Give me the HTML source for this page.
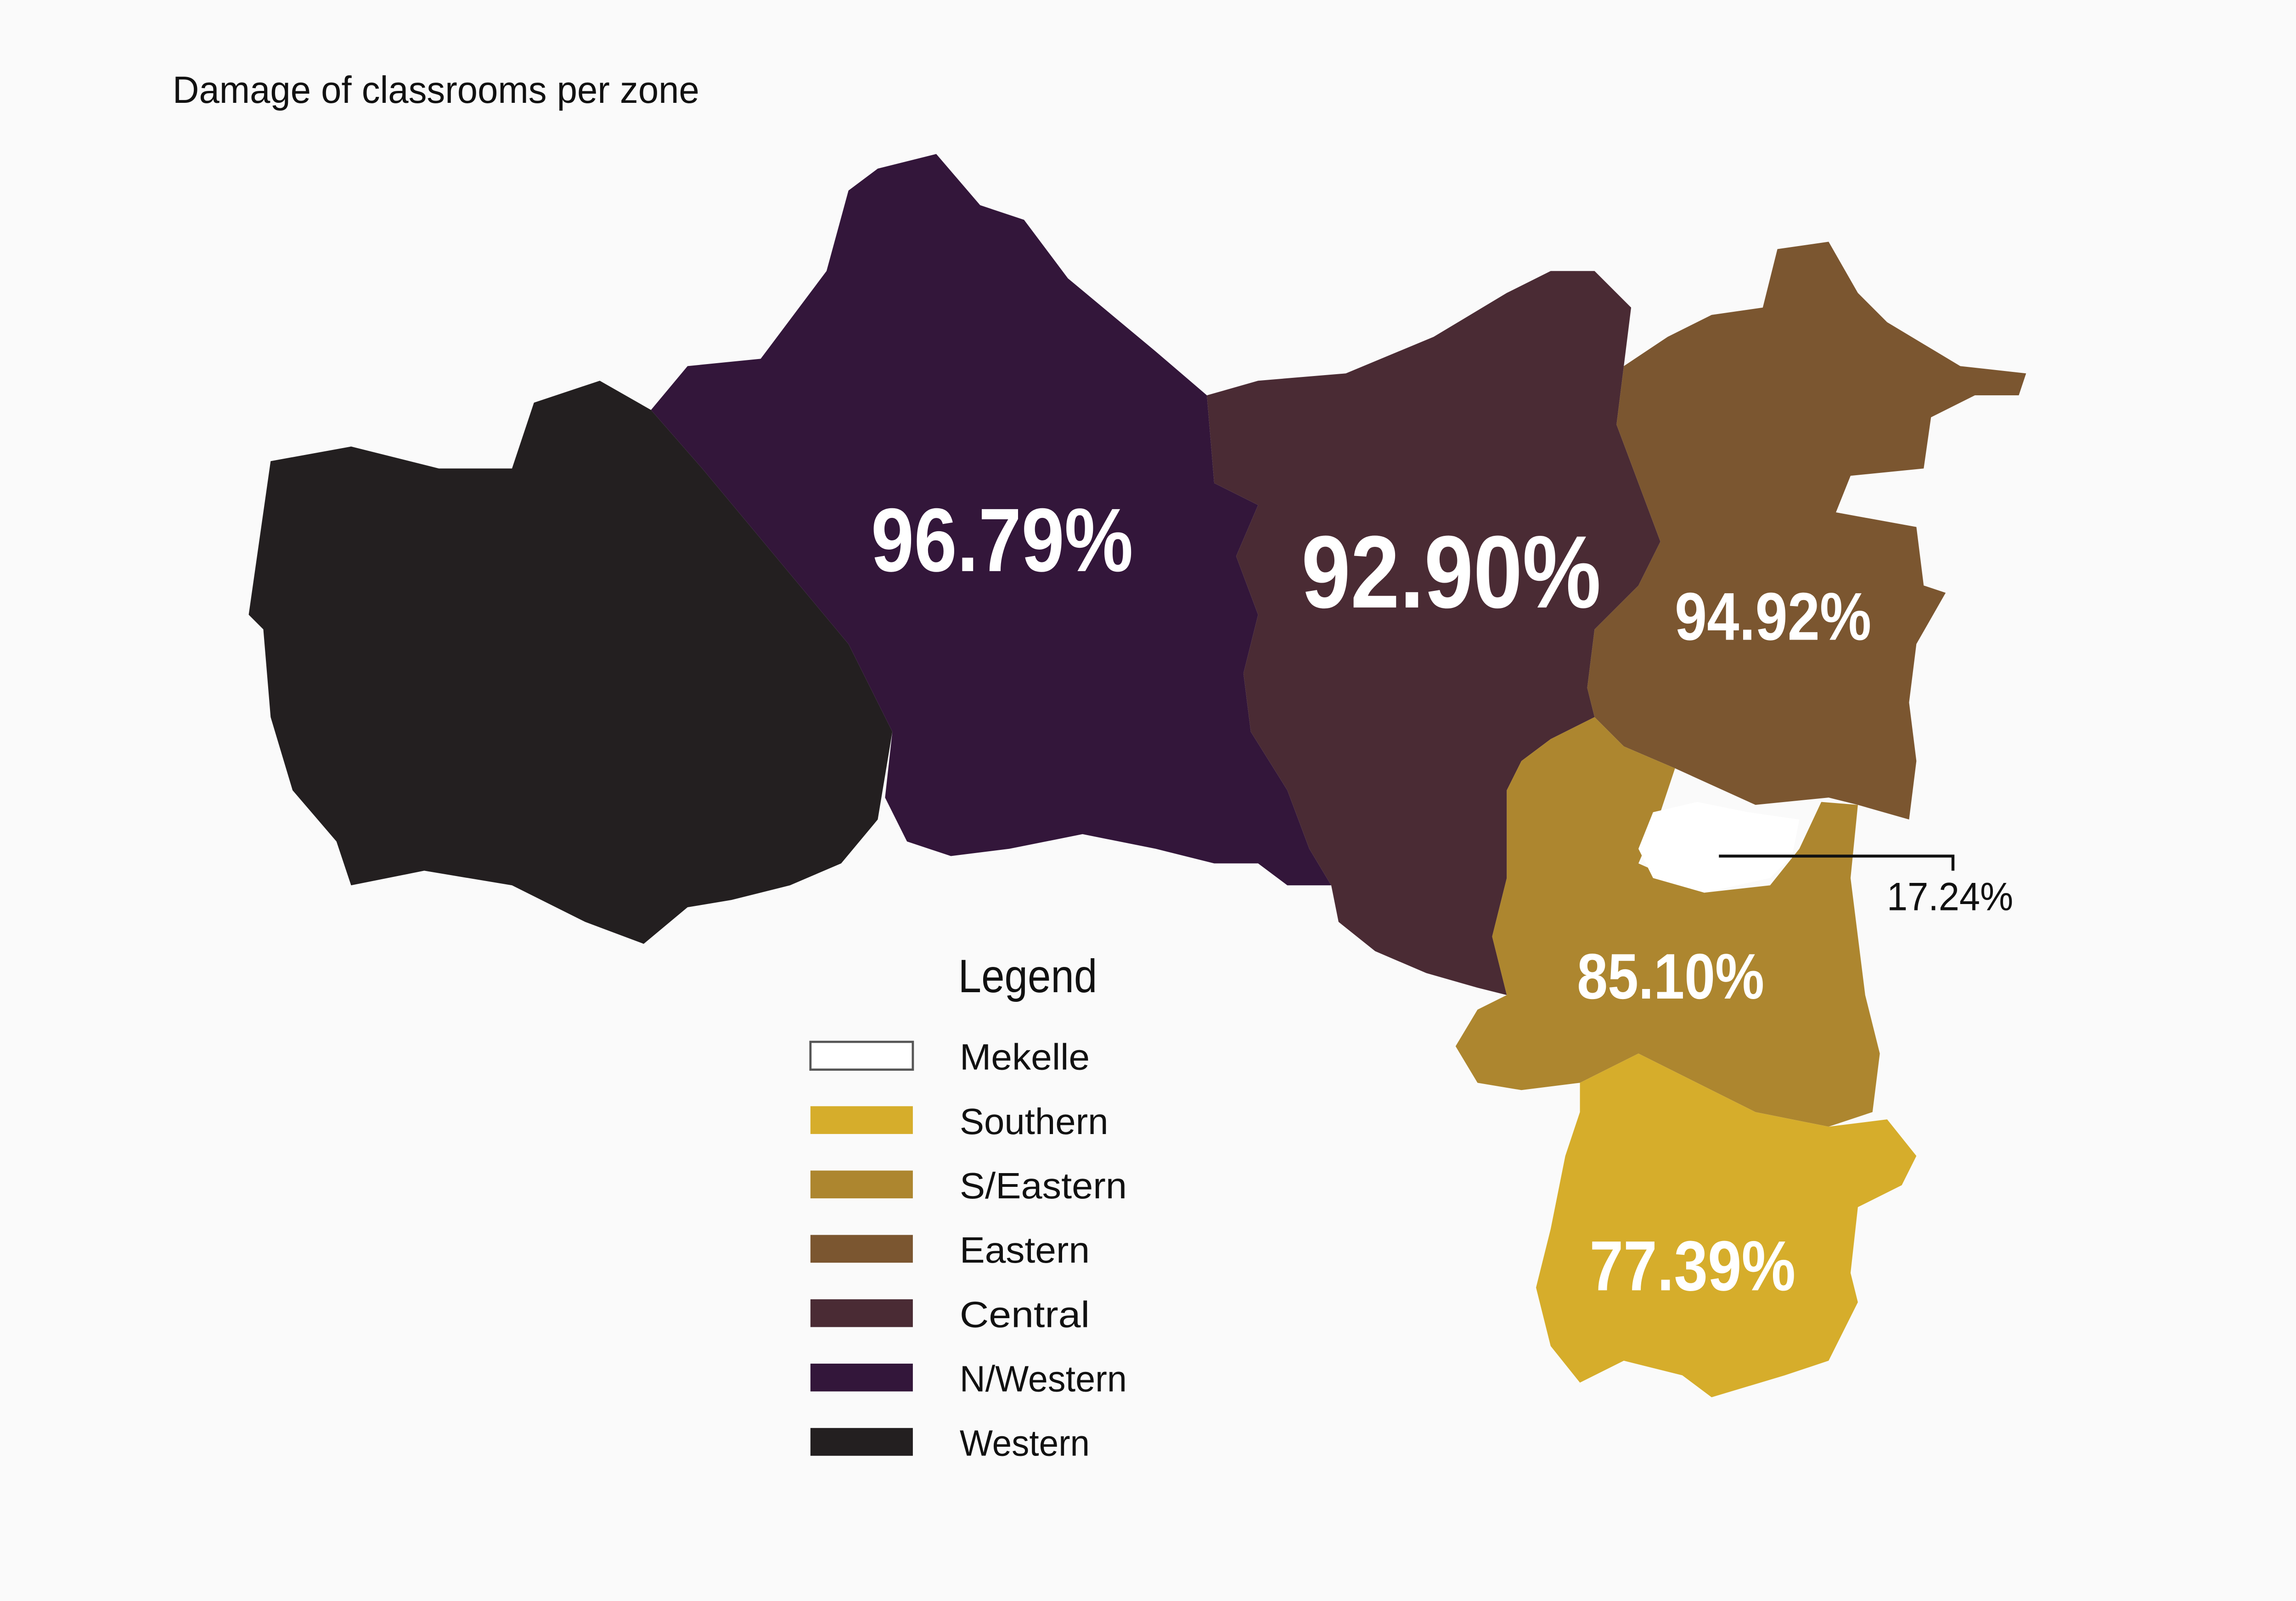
<!DOCTYPE html>
<html><head><meta charset="utf-8">
<style>
html,body{margin:0;padding:0;background:#fafafa;overflow:hidden;}
svg{display:block;}
text{font-family:"Liberation Sans",sans-serif;}
</style></head>
<body>
<svg id="chart" width="5231" height="3487" viewBox="0 0 1642 1094" xmlns="http://www.w3.org/2000/svg">
<rect width="1642" height="1094" fill="#fafafa"/>
<text x="118" y="70" font-size="26" fill="#111" textLength="360" lengthAdjust="spacingAndGlyphs">Damage of  classrooms per zone</text>
<g id="map"></g>
<g id="labels"></g>
<g id="legend">
<text x="655" y="678" font-size="32" fill="#111" textLength="95" lengthAdjust="spacingAndGlyphs">Legend</text>
</g>
</svg>
<script>
const zones = ["Mekelle","Southern","S/Eastern","Eastern","Central","N/Western","Western"];
const values = [17.24, 77.39, 85.10, 94.92, 92.90, 96.79, null];
const colors = ["#ffffff","#d6ad2b","#ad862f","#7b5630","#4a2b34","#33163a","#231f20"];
const shapes = {
"Western":[[185,315],[240,305],[300,320],[350,320],[365,275],[410,260],[445,280],[480,320],[530,380],[580,440],[610,500],[600,560],[575,590],[540,605],[500,615],[470,620],[440,645],[400,630],[350,605],[290,595],[240,605],[230,575],[200,540],[185,490],[180,430],[170,420]],
"N/Western":[[445,280],[470,250],[520,245],[565,185],[580,130],[600,115],[640,105],[670,140],[700,150],[730,190],[760,215],[790,240],[825,270],[830,330],[860,345],[845,380],[860,420],[850,460],[855,500],[880,540],[895,580],[910,605],[880,605],[860,590],[830,590],[790,580],[740,570],[690,580],[650,585],[620,575],[605,545],[610,500],[580,440],[530,380],[480,320]],
"Central":[[825,270],[860,260],[920,255],[980,230],[1030,200],[1060,185],[1090,185],[1115,210],[1110,250],[1105,290],[1120,330],[1135,370],[1120,400],[1090,430],[1085,470],[1090,490],[1060,505],[1040,520],[1030,540],[1030,600],[1020,640],[1030,680],[1010,675],[975,665],[940,650],[915,630],[910,605],[895,580],[880,540],[855,500],[850,460],[860,420],[845,380],[860,345],[830,330]],
"Eastern":[[1110,250],[1140,230],[1170,215],[1205,210],[1215,170],[1250,165],[1270,200],[1290,220],[1340,250],[1385,255],[1380,270],[1350,270],[1320,285],[1315,320],[1265,325],[1255,350],[1310,360],[1315,400],[1330,405],[1310,440],[1305,480],[1310,520],[1305,560],[1270,550],[1250,545],[1200,550],[1145,525],[1110,510],[1090,490],[1085,470],[1090,430],[1120,400],[1135,370],[1120,330],[1105,290]],
"S/Eastern":[[1090,490],[1110,510],[1145,525],[1135,555],[1120,590],[1165,610],[1210,605],[1230,580],[1245,548],[1270,550],[1265,600],[1270,640],[1275,680],[1285,720],[1280,760],[1250,770],[1200,760],[1160,740],[1120,720],[1080,740],[1040,745],[1010,740],[995,715],[1010,690],[1030,680],[1020,640],[1030,600],[1030,540],[1040,520],[1060,505]],
"Southern":[[1080,740],[1120,720],[1160,740],[1200,760],[1250,770],[1290,765],[1310,790],[1300,810],[1270,825],[1265,870],[1270,890],[1250,930],[1220,940],[1170,955],[1150,940],[1110,930],[1080,945],[1060,920],[1050,880],[1060,840],[1070,790],[1080,760]],
"Mekelle":[[1120,580],[1130,555],[1160,548],[1195,555],[1230,560],[1225,585],[1210,600],[1165,610],[1130,600]]
};
const labelPos = {"N/Western":[685,370,56],"Central":[992,392,64],"Eastern":[1212,422,42],"S/Eastern":[1142,668,40],"Southern":[1157,866,44]};
const NS="http://www.w3.org/2000/svg";
const map=document.getElementById('map'), labels=document.getElementById('labels'), legend=document.getElementById('legend');
const drawOrder=["Western","N/Western","Central","Eastern","S/Eastern","Southern","Mekelle"];
drawOrder.forEach(z=>{
  const i=zones.indexOf(z);
  const p=document.createElementNS(NS,'polygon');
  p.setAttribute('points',shapes[z].map(q=>q.join(',')).join(' '));
  p.setAttribute('fill',colors[i]);
  
  
  map.appendChild(p);
});
zones.forEach((z,i)=>{
  if(values[i]===null) return;
  const t=document.createElementNS(NS,'text');
  let fs;
  if(z==="Mekelle"){
    const l=document.createElementNS(NS,'polyline');
    l.setAttribute('points','1175,585 1335,585 1335,595');
    l.setAttribute('fill','none');l.setAttribute('stroke','#111');l.setAttribute('stroke-width','2');
    
    
    labels.appendChild(l);
    fs=27;
    t.setAttribute('x',1333);t.setAttribute('y',622);t.setAttribute('font-size',fs);t.setAttribute('fill','#111');
  } else {
    const lp=labelPos[z];
    fs=lp[2];
    t.setAttribute('x',lp[0]);t.setAttribute('y',lp[1]+fs*0.36);t.setAttribute('font-size',fs*1.1);t.setAttribute('fill','#fff');t.setAttribute('font-weight','bold');
  }
  t.setAttribute('text-anchor','middle');
  t.setAttribute('textLength',fs*3.2);
  t.setAttribute('lengthAdjust','spacingAndGlyphs');
  t.textContent=values[i].toFixed(2)+'%';
  
  
  labels.appendChild(t);
});
zones.forEach((z,i)=>{
  const y=721+i*44;
  const r=document.createElementNS(NS,'rect');
  r.setAttribute('x',554);r.setAttribute('y',y-9);r.setAttribute('width',70);r.setAttribute('height',19);
  r.setAttribute('fill',colors[i]);r.setAttribute('stroke',i===0?'#555':'none');r.setAttribute('stroke-width','1.5');
  
  
  legend.appendChild(r);
  const t=document.createElementNS(NS,'text');
  t.setAttribute('x',656);t.setAttribute('y',y+10);t.setAttribute('font-size','25');t.setAttribute('fill','#111');
  t.setAttribute('textLength',z.length*12.7);
  t.setAttribute('lengthAdjust','spacingAndGlyphs');
  t.textContent=z;
  
  
  legend.appendChild(t);
});
</script>
</body></html>
